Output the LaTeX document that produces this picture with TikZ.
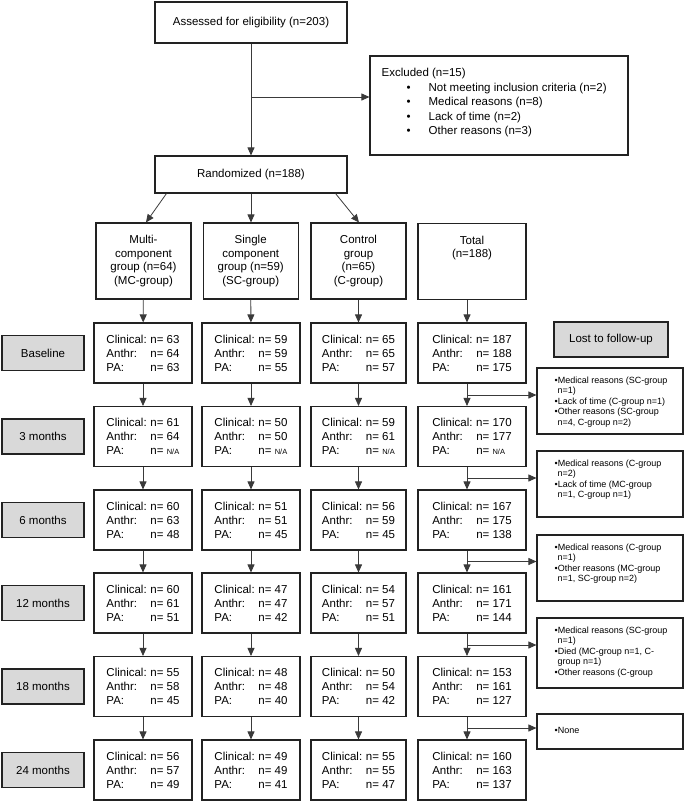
\documentclass[tikz,border=0pt]{standalone}
\usepackage{fontspec}
\setmainfont{Liberation Sans}
\usetikzlibrary{arrows.meta,calc}
\definecolor{boxGray}{HTML}{D9D9D9}
\definecolor{lineDark}{HTML}{222222}
\definecolor{arrowGray}{HTML}{3A3A3A}
\newcommand{\ncount}[3]{\makebox[44pt][l]{Clinical:}n= #1\\\makebox[44pt][l]{Anthr:}n= #2\\\makebox[44pt][l]{PA:}n= #3}
\newcommand{\nna}{{\fontsize{7.5}{8}\selectfont N/A}}

\begin{document}
\begin{tikzpicture}[x=1pt, y=-1pt, font=\fontsize{11.5}{14}\selectfont,
    box/.style={draw=lineDark, line width=1.1pt, inner sep=0pt},
    dat/.style={box, minimum width=98pt, minimum height=60pt, align=left},
    grp/.style={box, minimum width=95pt, minimum height=76pt, align=center, font=\fontsize{11.5}{13.5}\selectfont},
    lab/.style={box, fill=boxGray, minimum width=82pt, minimum height=35pt},
    loss/.style={box, minimum width=146pt},
    losstxt/.style={anchor=north west, inner sep=0pt, align=left, font=\fontsize{9}{10.5}\selectfont},
    arr/.style={-{Triangle[length=8pt,width=7pt]}, draw=arrowGray, line width=0.8pt}]
    \useasboundingbox (0,0) rectangle (685,801);

    % enrolment
    \node[box, minimum width=192pt, minimum height=41pt] (asmt) at (251,22.5) {Assessed for eligibility (n=203)};
    \node[box, minimum width=258pt, minimum height=99pt] (excl) at (499,105.5) {};
    \node[anchor=west, align=left, inner sep=0pt, font=\fontsize{11.5}{14.5}\selectfont] (excltxt) at ($(excl.west)+(12,-2.5)$)
        {Excluded (n=15)\\
         \hspace{25pt}\makebox[22pt][l]{•}Not meeting inclusion criteria (n=2)\\
         \hspace{25pt}\makebox[22pt][l]{•}Medical reasons (n=8)\\
         \hspace{25pt}\makebox[22pt][l]{•}Lack of time (n=2)\\
         \hspace{25pt}\makebox[22pt][l]{•}Other reasons (n=3)};
    \node[box, minimum width=192pt, minimum height=37pt] (rand) at (251,174.5) {Randomized (n=188)};
    \coordinate (ex) at (251,97);
    \draw[arr] (asmt) -- (rand);
    \draw[arr] (ex) -- (ex -| excl.west);

    % allocation
    \node[grp] (gMC) at (143.5,261) {Multi-\\component\\group (n=64)\\(MC-group)};
    \node[grp] (gSC) at (250.7,261) {Single\\component\\group (n=59)\\(SC-group)};
    \node[grp] (gC) at (358.5,261) {Control\\group\\(n=65)\\(C-group)};
    \node[grp, minimum width=108pt] (gT) at (472,261.5) {};
    \node[anchor=north, align=center, inner sep=0pt, font=\fontsize{11.5}{13.5}\selectfont] (gTtxt) at ($(gT.north)+(0,13)$) {Total\\(n=188)};
    \draw[arr] ($(rand.south west)+(12,0)$) -- ($(gMC.north)+(2.5,0)$);
    \draw[arr] (rand.south) -- (rand.south |- gSC.north);
    \draw[arr] ($(rand.south east)+(-12,0)$) -- ($(gC.north)+(0.5,0)$);

    % time points
    \node[lab] (l1) at (43,353) {Baseline};
    \node[lab] (l2) at (43,436.5) {3 months};
    \node[lab] (l3) at (43,520) {6 months};
    \node[lab] (l4) at (43,603) {12 months};
    \node[lab] (l5) at (43,686.5) {18 months};
    \node[lab] (l6) at (43,770) {24 months};
    \node[lab, minimum width=114pt] (lost) at (611,339.5) {Lost to follow-up};

    % multi-component group
    \node[dat] (dMC1) at (143,353) {\ncount{63}{64}{63}};
    \node[dat] (dMC2) at (143,436.5) {\ncount{61}{64}{\nna}};
    \node[dat] (dMC3) at (143,520) {\ncount{60}{63}{48}};
    \node[dat] (dMC4) at (143,603) {\ncount{60}{61}{51}};
    \node[dat] (dMC5) at (143,686.5) {\ncount{55}{58}{45}};
    \node[dat] (dMC6) at (143,770) {\ncount{56}{57}{49}};
    % single component group
    \node[dat] (dSC1) at (251,353) {\ncount{59}{59}{55}};
    \node[dat] (dSC2) at (251,436.5) {\ncount{50}{50}{\nna}};
    \node[dat] (dSC3) at (251,520) {\ncount{51}{51}{45}};
    \node[dat] (dSC4) at (251,603) {\ncount{47}{47}{42}};
    \node[dat] (dSC5) at (251,686.5) {\ncount{48}{48}{40}};
    \node[dat] (dSC6) at (251,770) {\ncount{49}{49}{41}};
    % control group
    \node[dat, minimum width=95pt] (dC1) at (358.5,353) {\ncount{65}{65}{57}};
    \node[dat, minimum width=95pt] (dC2) at (358.5,436.5) {\ncount{59}{61}{\nna}};
    \node[dat, minimum width=95pt] (dC3) at (358.5,520) {\ncount{56}{59}{45}};
    \node[dat, minimum width=95pt] (dC4) at (358.5,603) {\ncount{54}{57}{51}};
    \node[dat, minimum width=95pt] (dC5) at (358.5,686.5) {\ncount{50}{54}{42}};
    \node[dat, minimum width=95pt] (dC6) at (358.5,770) {\ncount{55}{55}{47}};
    % total
    \node[dat, minimum width=108pt] (dT1) at (472,353) {\ncount{187}{188}{175}};
    \node[dat, minimum width=108pt] (dT2) at (472,436.5) {\ncount{170}{177}{\nna}};
    \node[dat, minimum width=108pt] (dT3) at (472,520) {\ncount{167}{175}{138}};
    \node[dat, minimum width=108pt] (dT4) at (472,603) {\ncount{161}{171}{144}};
    \node[dat, minimum width=108pt] (dT5) at (472,686.5) {\ncount{153}{161}{127}};
    \node[dat, minimum width=108pt] (dT6) at (472,770) {\ncount{160}{163}{137}};

    % losses
    \node[loss, minimum height=66pt] (loss1) at (610,401) {};
    \node[loss, minimum height=66pt] (loss2) at (610,484) {};
    \node[loss, minimum height=66pt] (loss3) at (610,568) {};
    \node[loss, minimum height=70pt] (loss4) at (610,653) {};
    \node[loss, minimum height=35pt] (loss5) at (610,731.5) {};
    \node[losstxt] (t1) at ($(loss1.north west)+(18,9)$) {•Medical reasons (SC-group\\\hspace{3pt}n=1)\\•Lack of time (C-group n=1)\\•Other reasons (SC-group\\\hspace{3pt}n=4, C-group n=2)};
    \node[losstxt] (t2) at ($(loss2.north west)+(18,9)$) {•Medical reasons (C-group\\\hspace{3pt}n=2)\\•Lack of time (MC-group\\\hspace{3pt}n=1, C-group n=1)};
    \node[losstxt] (t3) at ($(loss3.north west)+(18,9)$) {•Medical reasons (C-group\\\hspace{3pt}n=1)\\•Other reasons (MC-group\\\hspace{3pt}n=1, SC-group n=2)};
    \node[losstxt] (t4) at ($(loss4.north west)+(18,9)$) {•Medical reasons (SC-group\\\hspace{3pt}n=1)\\•Died (MC-group n=1, C-\\\hspace{3pt}group n=1)\\•Other reasons (C-group};
    \node[losstxt, anchor=west] (t5) at ($(loss5.west)+(18,-1)$) {•None};

    % flow down the columns
    \draw[arr] (gMC) -- (dMC1);
    \draw[arr] (dMC1) -- (dMC2);
    \draw[arr] (dMC2) -- (dMC3);
    \draw[arr] (dMC3) -- (dMC4);
    \draw[arr] (dMC4) -- (dMC5);
    \draw[arr] (dMC5) -- (dMC6);
    \draw[arr] (gSC) -- (dSC1);
    \draw[arr] (dSC1) -- (dSC2);
    \draw[arr] (dSC2) -- (dSC3);
    \draw[arr] (dSC3) -- (dSC4);
    \draw[arr] (dSC4) -- (dSC5);
    \draw[arr] (dSC5) -- (dSC6);
    \draw[arr] (gC) -- (dC1);
    \draw[arr] (dC1) -- (dC2);
    \draw[arr] (dC2) -- (dC3);
    \draw[arr] (dC3) -- (dC4);
    \draw[arr] (dC4) -- (dC5);
    \draw[arr] (dC5) -- (dC6);
    \coordinate (tx) at (467,0);
    \draw[arr] (gT.south -| tx) -- (dT1.north -| tx);
    \draw[arr] (dT1.south -| tx) -- (dT2.north -| tx);
    \draw[arr] (dT2.south -| tx) -- (dT3.north -| tx);
    \draw[arr] (dT3.south -| tx) -- (dT4.north -| tx);
    \draw[arr] (dT4.south -| tx) -- (dT5.north -| tx);
    \draw[arr] (dT5.south -| tx) -- (dT6.north -| tx);
    \coordinate (br1) at (467,395);
    \coordinate (br2) at (467,478);
    \coordinate (br3) at (467,561.5);
    \coordinate (br4) at (467,645);
    \coordinate (br5) at (467,728);
    \draw[arr] (br1) -- (br1 -| loss1.west);
    \draw[arr] (br2) -- (br2 -| loss2.west);
    \draw[arr] (br3) -- (br3 -| loss3.west);
    \draw[arr] (br4) -- (br4 -| loss4.west);
    \draw[arr] (br5) -- (br5 -| loss5.west);
\end{tikzpicture}
\end{document}
